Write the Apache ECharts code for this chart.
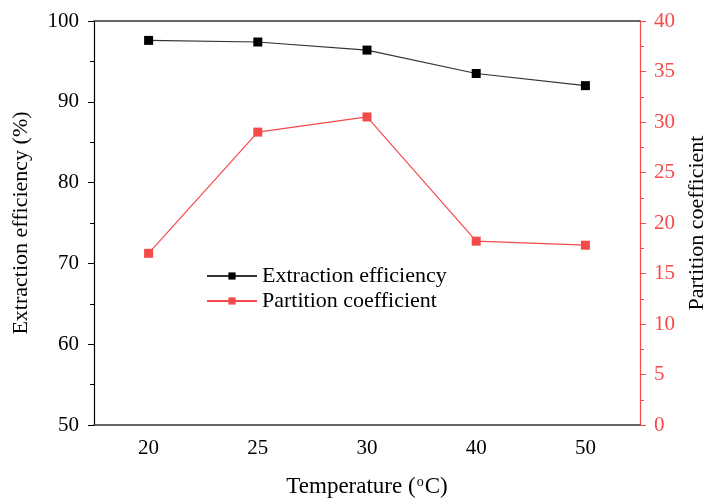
<!DOCTYPE html>
<html>
<head>
<meta charset="utf-8">
<script src="https://cdn.jsdelivr.net/npm/echarts@6/dist/echarts.min.js"></script>
<style>
html, body { margin: 0; padding: 0; background: #fff; }
#chart { width: 709px; height: 498px; }
</style>
</head>
<body>
<div id="chart"></div>
<script>
let chart = echarts.init(document.querySelector("#chart"))

const temps = ['20', '25', '30', '40', '50']
const efficiency = [97.6, 97.4, 96.4, 93.5, 92.0]
const partition = [17.0, 29.0, 30.5, 18.2, 17.8]

const font = 'Liberation Serif'
const red = '#f54a4a'

let option = {
    animation: false,
    grid: { left: 94, right: 69, top: 21, bottom: 73, outerBoundsMode: 'none' },
    legend: {
        orient: 'vertical',
        left: 201,
        top: 260,
        itemWidth: 50,
        itemHeight: 9,
        itemGap: 3,
        textStyle: { fontFamily: font, fontSize: 22, color: '#000' },
        data: ['Extraction efficiency', 'Partition coefficient']
    },
    xAxis: [
        {
            type: 'category',
            data: temps,
            name: 'Temperature ({s|o}C)',
            nameLocation: 'middle',
            nameGap: 50,
            nameTextStyle: {
                fontFamily: font, fontSize: 23, color: '#000',
                rich: { s: { fontFamily: font, fontSize: 14, verticalAlign: 'top', padding: [0, 1, 9, 1], color: '#000' } }
            },
            axisLine: { lineStyle: { color: '#333', width: 1.5 } },
            axisTick: { alignWithLabel: true, length: 6, lineStyle: { color: '#333' } },
            axisLabel: { fontFamily: font, fontSize: 21, color: '#000', margin: 13 }
        },
        {
            type: 'category',
            data: temps,
            position: 'bottom',
            axisLine: { show: false },
            axisTick: { length: 4, lineStyle: { color: '#333' } },
            axisLabel: { show: false }
        },
        {
            type: 'category',
            data: temps,
            position: 'top',
            axisLine: { lineStyle: { color: '#333', width: 1.5 } },
            axisTick: { show: false },
            axisLabel: { show: false }
        }
    ],
    yAxis: [
        {
            type: 'value',
            min: 50, max: 100, interval: 10,
            name: 'Extraction efficiency (%)',
            nameLocation: 'middle',
            nameGap: 62,
            nameTextStyle: { fontFamily: font, fontSize: 22, color: '#000' },
            axisLine: { show: true, lineStyle: { color: '#000', width: 1.2 } },
            axisTick: { show: true, length: 6, lineStyle: { color: '#000' } },
            minorTick: { show: true, splitNumber: 2, length: 4, lineStyle: { color: '#000' } },
            axisLabel: { fontFamily: font, fontSize: 21, color: '#000', margin: 15 },
            splitLine: { show: false }
        },
        {
            type: 'value',
            min: 0, max: 40, interval: 5,
            position: 'right',
            name: 'Partition coefficient',
            nameLocation: 'middle',
            nameGap: 38,
            nameRotate: 90,
            nameTextStyle: { fontFamily: font, fontSize: 22, color: '#000' },
            axisLine: { show: true, lineStyle: { color: red, width: 1.2 } },
            axisTick: { show: true, length: 6, lineStyle: { color: red } },
            minorTick: { show: true, splitNumber: 2, length: 4, lineStyle: { color: red } },
            axisLabel: { fontFamily: font, fontSize: 21, color: red, margin: 14 },
            splitLine: { show: false }
        }
    ],
    series: [
        {
            name: 'Extraction efficiency',
            type: 'line',
            yAxisIndex: 0,
            data: efficiency,
            symbol: 'rect',
            symbolSize: 9,
            itemStyle: { color: '#000' },
            lineStyle: { color: '#333', width: 1.2 }
        },
        {
            name: 'Partition coefficient',
            type: 'line',
            yAxisIndex: 1,
            data: partition,
            symbol: 'rect',
            symbolSize: 9,
            itemStyle: { color: red },
            lineStyle: { color: red, width: 1.2 }
        }
    ]
};
chart.setOption(option);
</script>
</body>
</html>
